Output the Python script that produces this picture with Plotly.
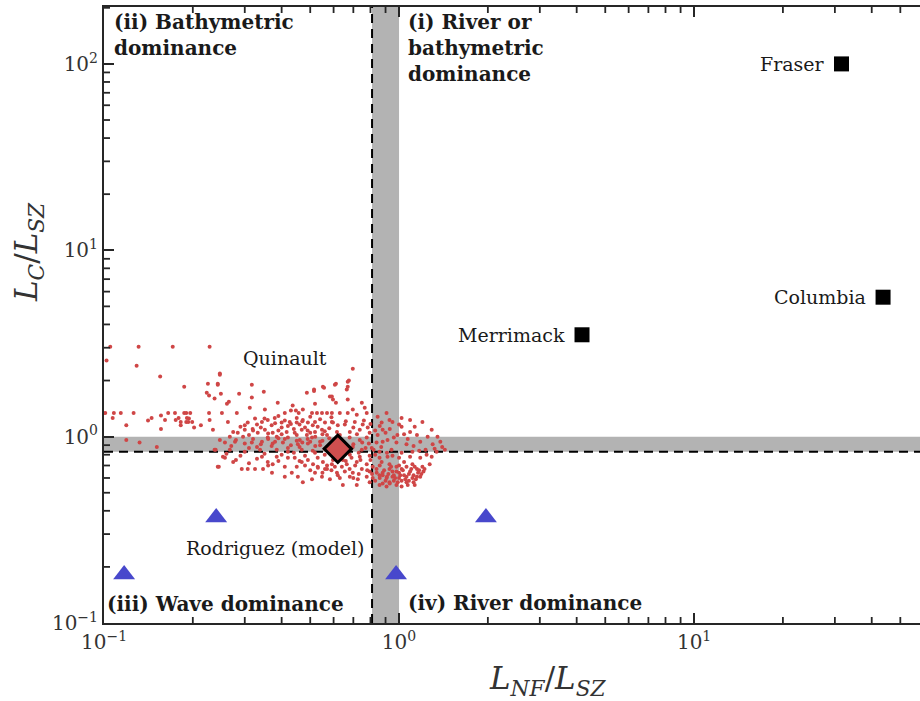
import math
import plotly.graph_objects as go

# ---- data -------------------------------------------------------------
# Large river plumes (black squares)
river_names = ["Fraser", "Columbia", "Merrimack"]
river_lnf = [31.6, 43.7, 4.17]
river_lc = [100.0, 5.6, 3.52]

# Quinault mean value (diamond)
quinault_lnf = [0.62]
quinault_lc = [0.86]

# Rodriguez model runs (blue triangles)
rodriguez_lnf = [0.117, 0.240, 0.977, 1.97]
rodriguez_lc = [0.182, 0.368, 0.182, 0.368]

# Quinault individual tidal-cycle estimates (L_NF/L_SZ, L_C/L_SZ)
quinault_cloud = [
    (0.105, 3.04), (0.131, 3.04), (0.171, 3.04), (0.228, 3.04), (0.102, 2.56),
    (0.129, 2.40), (0.155, 2.10), (0.187, 1.85), (0.225, 1.92), (0.243, 1.92),
    (0.223, 1.72), (0.227, 1.66), (0.237, 1.60), (0.247, 2.18),
    (0.101, 1.34), (0.108, 1.34), (0.114, 1.34), (0.126, 1.34), (0.165, 1.34),
    (0.174, 1.34), (0.187, 1.34), (0.190, 1.34), (0.196, 1.34), (0.227, 1.34),
    (0.107, 1.26), (0.156, 1.30), (0.179, 1.26), (0.191, 1.26), (0.194, 1.25),
    (0.228, 1.23), (0.141, 1.22), (0.145, 1.26), (0.161, 1.23), (0.175, 1.23),
    (0.182, 1.20), (0.190, 1.20), (0.193, 1.20), (0.199, 1.20), (0.182, 1.15),
    (0.119, 1.15), (0.156, 1.10), (0.202, 1.12), (0.213, 1.15), (0.234, 1.09),
    (0.119, 0.96), (0.132, 0.93), (0.151, 0.88), (0.239, 0.85), (0.245, 0.69),
    (0.247, 2.15), (0.243, 1.90), (0.317, 1.90), (0.249, 1.70), (0.287, 1.70),
    (0.348, 1.74), (0.265, 1.54), (0.261, 1.50), (0.317, 1.62), (0.388, 1.52),
    (0.487, 1.72), (0.515, 1.76), (0.552, 1.85), (0.583, 1.64), (0.597, 1.58),
    (0.436, 1.47), (0.519, 1.50), (0.472, 1.40), (0.251, 1.34), (0.282, 1.34),
    (0.312, 1.43), (0.351, 1.40), (0.410, 1.34), (0.430, 1.38), (0.447, 1.38),
    (0.457, 1.34), (0.507, 1.34), (0.527, 1.34), (0.548, 1.34), (0.570, 1.34),
    (0.592, 1.34), (0.263, 1.20), (0.307, 1.19), (0.325, 1.25), (0.343, 1.20),
    (0.359, 1.23), (0.379, 1.26), (0.400, 1.19), (0.426, 1.20), (0.450, 1.19),
    (0.472, 1.23), (0.491, 1.19), (0.519, 1.20), (0.561, 1.19), (0.592, 1.20),
    (0.274, 1.06), (0.284, 1.05), (0.300, 1.09), (0.319, 1.10), (0.332, 1.05),
    (0.351, 1.09), (0.373, 1.05), (0.400, 1.12), (0.416, 1.06), (0.443, 1.05),
    (0.468, 1.09), (0.487, 1.02), (0.519, 1.06), (0.548, 1.09), (0.570, 1.02),
    (0.267, 1.00), (0.296, 1.00), (0.359, 0.99), (0.385, 1.00), (0.420, 0.99),
    (0.461, 0.96), (0.507, 0.99), (0.540, 0.94), (0.247, 0.96), (0.257, 0.93),
    (0.278, 0.94), (0.317, 0.93), (0.343, 0.94), (0.373, 0.92), (0.404, 0.93),
    (0.454, 0.91), (0.491, 0.92), (0.237, 0.85), (0.267, 0.85), (0.300, 0.83),
    (0.338, 0.85), (0.385, 0.85), (0.420, 0.83), (0.468, 0.85), (0.519, 0.82),
    (0.253, 0.78), (0.274, 0.73), (0.257, 0.77), (0.243, 0.69), (0.343, 0.78),
    (0.359, 0.73), (0.373, 0.71), (0.385, 0.78), (0.443, 0.77), (0.450, 0.69),
    (0.468, 0.73), (0.491, 0.75), (0.511, 0.71), (0.531, 0.68), (0.552, 0.73),
    (0.570, 0.67), (0.592, 0.71), (0.293, 0.67), (0.307, 0.67), (0.325, 0.67),
    (0.346, 0.67), (0.371, 0.64), (0.410, 0.61), (0.433, 0.64), (0.454, 0.61),
    (0.472, 0.57), (0.507, 0.59), (0.519, 0.64), (0.548, 0.61), (0.583, 0.59),
    (0.561, 0.67), (0.515, 1.79), (0.557, 1.83), (0.611, 1.92), (0.676, 2.00),
    (0.697, 2.31), (0.670, 1.85), (0.606, 1.90), (0.670, 1.97), (0.665, 1.79),
    (0.592, 1.64), (0.611, 1.52), (0.670, 1.58), (0.748, 1.52), (0.697, 1.40),
    (0.765, 1.43), (0.630, 1.34), (0.670, 1.34), (0.719, 1.31), (0.777, 1.34),
    (0.907, 1.34), (0.846, 1.28), (0.928, 1.23), (1.02, 1.26), (1.09, 1.23),
    (1.20, 1.20), (0.597, 1.19), (0.655, 1.16), (0.708, 1.20), (0.753, 1.16),
    (0.873, 1.19), (0.950, 1.20), (1.02, 1.13), (1.13, 1.13), (1.29, 1.09),
    (0.616, 1.06), (0.681, 1.06), (0.736, 1.09), (0.783, 1.12), (0.795, 1.05),
    (0.846, 1.02), (0.880, 1.09), (0.914, 0.96), (0.987, 1.02), (1.09, 1.06),
    (1.15, 1.02), (1.25, 1.00), (1.35, 1.00), (0.736, 0.96), (0.777, 0.99),
    (0.839, 0.93), (0.880, 0.94), (0.980, 0.93), (1.06, 0.91), (1.18, 0.94),
    (1.30, 0.91), (1.40, 0.88), (0.697, 0.88), (0.748, 0.85), (0.808, 0.87),
    (0.859, 0.83), (0.943, 0.85), (1.02, 0.82), (1.11, 0.83), (1.23, 0.85),
    (1.34, 0.83), (1.43, 0.85), (0.681, 0.80), (0.736, 0.78), (0.795, 0.79),
    (0.859, 0.77), (0.914, 0.78), (1.00, 0.77), (1.09, 0.78), (1.18, 0.77),
    (1.29, 0.78), (0.597, 0.75), (0.645, 0.75), (0.606, 0.69), (0.665, 0.71),
    (0.719, 0.73), (0.777, 0.71), (0.814, 0.69), (0.873, 0.73), (0.928, 0.71),
    (0.980, 0.69), (1.04, 0.73), (1.11, 0.71), (1.20, 0.69), (1.27, 0.71),
    (0.616, 0.64), (0.655, 0.65), (0.697, 0.64), (0.748, 0.67), (0.795, 0.65),
    (0.839, 0.67), (0.880, 0.64), (0.928, 0.67), (0.980, 0.65), (1.02, 0.67),
    (1.09, 0.65), (1.15, 0.67), (1.21, 0.65), (0.630, 0.60), (0.681, 0.61),
    (0.725, 0.59), (0.777, 0.61), (0.814, 0.60), (0.859, 0.62), (0.907, 0.60),
    (0.950, 0.61), (1.00, 0.60), (1.06, 0.61), (1.11, 0.60), (1.18, 0.61),
    (0.645, 0.55), (0.719, 0.55), (0.795, 0.57), (0.859, 0.55), (0.928, 0.57),
    (0.980, 0.55), (1.06, 0.57), (1.13, 0.55), (0.907, 0.54), (1.02, 0.54),
    (0.37, 1.15), (0.39, 1.08), (0.42, 1.14), (0.44, 1.10), (0.46, 1.16),
    (0.48, 1.12), (0.50, 1.05), (0.53, 1.13), (0.55, 1.03), (0.58, 1.11),
    (0.36, 0.97), (0.38, 0.94), (0.41, 0.97), (0.43, 0.90), (0.47, 0.93),
    (0.49, 0.97), (0.52, 0.89), (0.55, 0.95), (0.57, 0.88), (0.60, 0.93),
    (0.33, 0.88), (0.35, 0.81), (0.40, 0.80), (0.44, 0.82), (0.48, 0.79),
    (0.53, 0.77), (0.56, 0.80), (0.60, 0.78), (0.64, 0.80), (0.66, 0.74),
    (0.65, 0.93), (0.68, 0.99), (0.70, 0.91), (0.72, 1.03), (0.75, 0.93),
    (0.70, 1.12), (0.73, 0.82), (0.77, 0.87), (0.80, 0.75), (0.83, 0.80),
    (0.88, 0.62), (0.92, 0.63), (0.96, 0.62), (1.00, 0.64), (1.04, 0.62),
    (1.08, 0.63), (1.12, 0.62), (1.16, 0.64), (0.90, 0.58), (0.96, 0.58),
    (1.02, 0.58), (1.08, 0.58), (1.14, 0.59), (0.94, 0.69), (1.00, 0.70),
    (1.06, 0.69), (1.13, 0.69), (0.86, 0.70), (0.84, 0.64), (0.88, 0.56),
    (0.29, 1.13), (0.31, 1.02), (0.33, 1.16), (0.35, 1.25), (0.39, 1.29),
    (0.45, 1.26), (0.50, 1.28), (0.27, 0.89), (0.29, 0.79), (0.31, 0.87),
    (0.30, 1.15), (0.32, 1.08), (0.34, 1.12), (0.36, 1.04), (0.38, 1.18),
    (0.40, 1.03), (0.41, 1.22), (0.43, 1.17), (0.45, 1.02), (0.47, 1.21),
    (0.49, 1.08), (0.51, 1.15), (0.52, 1.00), (0.54, 1.24), (0.56, 1.07),
    (0.58, 0.98), (0.59, 1.27), (0.62, 1.15), (0.63, 1.02), (0.66, 1.21),
    (0.28, 0.96), (0.30, 0.92), (0.32, 0.97), (0.34, 0.91), (0.37, 0.89),
    (0.39, 0.98), (0.42, 0.87), (0.45, 0.95), (0.46, 0.88), (0.50, 0.94),
    (0.51, 0.84), (0.54, 0.90), (0.56, 0.86), (0.58, 0.83), (0.61, 0.82),
    (0.63, 0.76), (0.67, 0.83), (0.69, 0.77), (0.71, 0.70), (0.74, 0.75),
    (0.26, 0.81), (0.28, 0.75), (0.31, 0.72), (0.33, 0.76), (0.36, 0.70),
    (0.39, 0.74), (0.41, 0.69), (0.42, 0.77), (0.46, 0.74), (0.48, 0.70),
    (0.50, 0.66), (0.53, 0.69), (0.55, 0.64), (0.57, 0.70), (0.59, 0.66),
    (0.62, 0.62), (0.64, 0.69), (0.68, 0.67), (0.70, 0.60), (0.73, 0.63),
    (0.86, 0.60), (0.89, 0.66), (0.91, 0.61), (0.93, 0.56), (0.95, 0.65),
    (0.97, 0.60), (0.99, 0.57), (1.01, 0.62), (1.03, 0.66), (1.05, 0.59),
    (1.07, 0.55), (1.10, 0.67), (1.12, 0.57), (1.15, 0.61), (1.17, 0.66),
    (1.19, 0.63), (1.22, 0.67), (0.83, 0.58), (0.81, 0.63), (0.78, 0.66),
    (0.76, 1.22), (0.80, 1.17), (0.83, 1.08), (0.86, 1.14), (0.90, 1.05),
    (0.93, 1.10), (0.96, 0.99), (1.00, 1.16), (1.04, 1.03), (1.07, 0.97),
    (1.12, 0.89), (1.17, 0.84), (1.24, 0.80), (1.32, 0.86), (1.38, 0.94),
    (0.79, 0.92), (0.82, 0.85), (0.87, 0.88), (0.91, 0.82), (0.95, 0.79),
]
cloud_lnf = [p[0] for p in quinault_cloud]
cloud_lc = [p[1] for p in quinault_cloud]

# Transition zones between regimes
lnf_band = [0.81, 1.0]
lc_band = [0.83, 1.0]

# Axis ranges (data units)
x_range = [0.1, 58.3]
y_range = [0.1, 202.0]

# Tick positions
major_vals = [0.1, 1, 10, 100]
major_text = ["10<sup>−1</sup>", "10<sup>0</sup>", "10<sup>1</sup>", "10<sup>2</sup>"]
x_minor = [0.2, 0.3, 0.4, 0.5, 0.6, 0.7, 0.8, 0.9,
           2, 3, 4, 5, 6, 7, 8, 9,
           20, 30, 40, 50]
y_minor = [0.2, 0.3, 0.4, 0.5, 0.6, 0.7, 0.8, 0.9,
           2, 3, 4, 5, 6, 7, 8, 9,
           20, 30, 40, 50, 60, 70, 80, 90, 200]

SERIF = "DejaVu Serif"
INK = "#1a1a1a"
AXIS = "#262626"
BAND = "#b3b3b3"
DASH = "9px,6px"
MINOR_LEN = 6

fig = go.Figure()

# regime transition bands and dashed thresholds
fig.add_shape(type="rect", xref="x", yref="paper", x0=lnf_band[0], x1=lnf_band[1],
              y0=0, y1=1, fillcolor=BAND, line_width=0, layer="below")
fig.add_shape(type="rect", xref="paper", yref="y", x0=0, x1=1,
              y0=lc_band[0], y1=lc_band[1], fillcolor=BAND, line_width=0, layer="below")
fig.add_shape(type="line", xref="x", yref="paper", x0=lnf_band[0], x1=lnf_band[0],
              y0=0, y1=1, line=dict(color="black", width=2, dash=DASH), layer="below")
fig.add_shape(type="line", xref="paper", yref="y", x0=0, x1=1,
              y0=lc_band[0], y1=lc_band[0], line=dict(color="black", width=2, dash=DASH),
              layer="below")

# minor log ticks (inside): bottom and top for x, left for y
minor_line = dict(color=AXIS, width=1.8)
for v in x_minor:
    fig.add_shape(type="line", xref="x", yref="paper", ysizemode="pixel", yanchor=0,
                  x0=v, x1=v, y0=0, y1=MINOR_LEN, line=minor_line, layer="above")
    fig.add_shape(type="line", xref="x", yref="paper", ysizemode="pixel", yanchor=1,
                  x0=v, x1=v, y0=0, y1=-MINOR_LEN, line=minor_line, layer="above")
for v in y_minor:
    fig.add_shape(type="line", xref="paper", yref="y", xsizemode="pixel", xanchor=0,
                  y0=v, y1=v, x0=0, x1=MINOR_LEN, line=minor_line, layer="above")

# Quinault cloud
fig.add_trace(go.Scatter(
    x=cloud_lnf, y=cloud_lc, mode="markers",
    marker=dict(size=4, color="#cf4646", line_width=0),
    hoverinfo="skip",
))

# Rodriguez model
fig.add_trace(go.Scatter(
    x=rodriguez_lnf, y=rodriguez_lc, mode="markers",
    marker=dict(symbol="triangle-up", size=19, color="#4848cc", line_width=0),
))

# Large rivers
fig.add_trace(go.Scatter(
    x=river_lnf, y=river_lc, mode="markers",
    marker=dict(symbol="square", size=15, color="black", line_width=0),
))

# Quinault mean
fig.add_trace(go.Scatter(
    x=quinault_lnf, y=quinault_lc, mode="markers",
    marker=dict(symbol="diamond", size=21, color="#cf4f4f",
                line=dict(color="black", width=3)),
))

# river names next to their squares
for name, xv, yv in zip(river_names, river_lnf, river_lc):
    fig.add_annotation(x=math.log10(xv), y=math.log10(yv), xref="x", yref="y",
                       text=name, showarrow=False, xanchor="right", yanchor="middle",
                       xshift=-15, font=dict(family=SERIF, size=19, color=INK))

fig.add_annotation(x=0.2224, y=0.430, xref="paper", yref="paper", text="Quinault",
                   showarrow=False, xanchor="center", yanchor="middle",
                   font=dict(family=SERIF, size=19, color=INK))
fig.add_annotation(x=0.2096, y=0.1218, xref="paper", yref="paper", text="Rodriguez (model)",
                   showarrow=False, xanchor="center", yanchor="middle",
                   font=dict(family=SERIF, size=19, color=INK))

# regime labels
bold = dict(family=SERIF, size=20, color=INK)
fig.add_annotation(x=0.0098, y=0.999, xref="paper", yref="paper",
                   text="<b>(ii) Bathymetric<br>dominance</b>", showarrow=False,
                   xanchor="left", yanchor="top", align="left", font=bold)
fig.add_annotation(x=0.370, y=0.999, xref="paper", yref="paper",
                   text="<b>(i) River or<br>bathymetric<br>dominance</b>", showarrow=False,
                   xanchor="left", yanchor="top", align="left", font=bold)
fig.add_annotation(x=0.001, y=0.031, xref="paper", yref="paper",
                   text="<b>(iii) Wave dominance</b>", showarrow=False,
                   xanchor="left", yanchor="middle", font=bold)
fig.add_annotation(x=0.370, y=0.032, xref="paper", yref="paper",
                   text="<b>(iv) River dominance</b>", showarrow=False,
                   xanchor="left", yanchor="middle", font=bold)

# axis titles
fig.add_annotation(x=(548 - 104) / 816, y=(623 - 680) / 616, xref="paper", yref="paper",
                   text="<i>L<sub>NF</sub></i>/<i>L<sub>SZ</sub></i>", showarrow=False,
                   xanchor="center", yanchor="middle",
                   font=dict(family=SERIF, size=31, color="#333333"))
fig.add_annotation(x=(28 - 104) / 816, y=(623 - 252) / 616, xref="paper", yref="paper",
                   text="<i>L<sub>C</sub></i>/<i>L<sub>SZ</sub></i>", showarrow=False,
                   xanchor="center", yanchor="middle", textangle=-90,
                   font=dict(family=SERIF, size=31, color="#333333"))

major_axis = dict(
    type="log", showgrid=False, zeroline=False,
    showline=True, linecolor=AXIS, linewidth=2,
    ticks="inside", ticklen=10, tickwidth=2.2, tickcolor=AXIS,
    tickmode="array", tickvals=major_vals, ticktext=major_text,
    tickfont=dict(family=SERIF, size=20, color="#333333"),
)

fig.update_layout(
    width=920, height=701,
    margin=dict(l=104, r=0, t=7, b=78),
    paper_bgcolor="white", plot_bgcolor="white",
    showlegend=False,
    xaxis=dict(range=[math.log10(x_range[0]), math.log10(x_range[1])],
               mirror="ticks", **major_axis),
    yaxis=dict(range=[math.log10(y_range[0]), math.log10(y_range[1])],
               mirror=False, **major_axis),
)

fig.write_html("out.html")
